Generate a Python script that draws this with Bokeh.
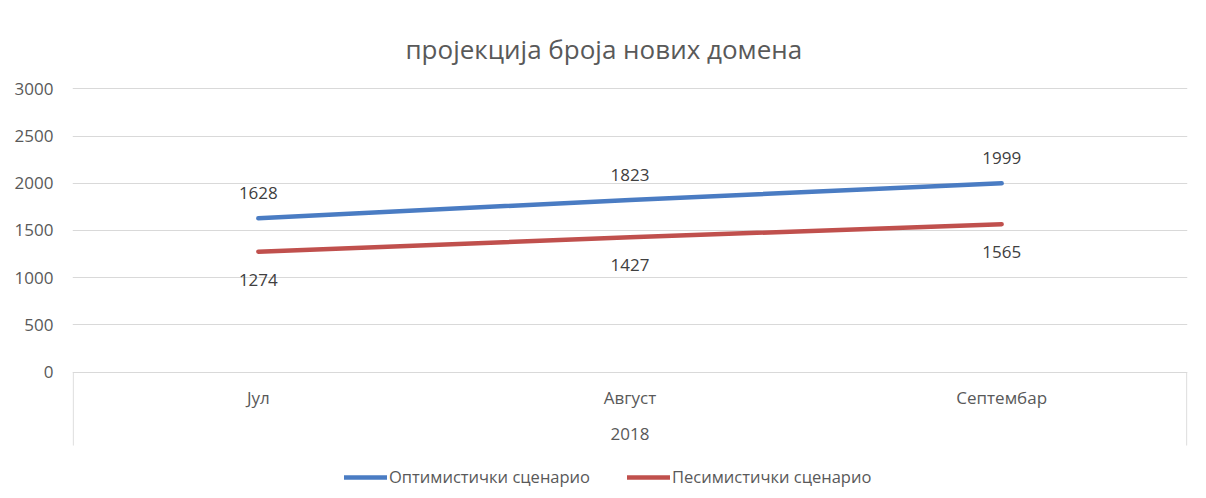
from bokeh.plotting import figure
from bokeh.models import FactorRange, Range1d, FixedTicker, Legend, LegendItem
from bokeh.core.properties import value
from bokeh.embed import file_html
from bokeh.resources import INLINE

# ---- data ----
months = ["Јул", "Август", "Септембар"]
year = "2018"
optimistic = [1628, 1823, 1999]
pessimistic = [1274, 1427, 1565]
y_ticks = [0, 500, 1000, 1500, 2000, 2500, 3000]
title_text = "пројекција броја нових домена"
series_names = ["Оптимистички сценарио", "Песимистички сценарио"]

FONT = "Open Sans"
GRID = "#d9d9d9"
BLUE = "#4a7cc3"
RED = "#c0504d"
Y_TOP = 3014
Y_BOTTOM = -1234      # frame reaches down to the legend row
BOX_BOTTOM = -779     # bottom of the category-axis box

p = figure(width=1190, height=488,
           x_range=FactorRange(factors=months, range_padding=0),
           y_range=Range1d(Y_BOTTOM, Y_TOP),
           output_backend="svg", toolbar_location=None,
           x_axis_location=None,
           min_border_left=72, min_border_right=3,
           min_border_top=87, min_border_bottom=0)

p.outline_line_color = None
p.background_fill_color = "white"
p.border_fill_color = "white"

# y axis
p.yaxis.ticker = FixedTicker(ticks=y_ticks)
p.yaxis.axis_line_color = None
p.yaxis.major_tick_line_color = None
p.yaxis.minor_tick_line_color = None
p.yaxis.major_tick_out = 0
p.yaxis.major_tick_in = 0
p.yaxis.major_label_standoff = 19
p.yaxis.major_label_text_font = FONT
p.yaxis.major_label_text_font_size = "17px"
p.yaxis.major_label_text_color = "#595959"

p.xgrid.grid_line_color = None
p.ygrid.grid_line_color = GRID
p.ygrid.grid_line_width = 1

# title
p.title.text = title_text
p.title.align = "left"
p.title.offset = 333
p.title.standoff = 41
p.title.text_font = FONT
p.title.text_font_size = "26px"
p.title.text_font_style = "normal"
p.title.text_color = "#595959"

# category axis box edges below zero line
p.segment(x0=[(months[0], -0.498), (months[-1], 0.498)], y0=[0, 0],
          x1=[(months[0], -0.498), (months[-1], 0.498)], y1=[BOX_BOTTOM, BOX_BOTTOM],
          line_color=GRID, line_width=1)

# series lines
r1 = p.line(months, optimistic, line_color=BLUE, line_width=4.5, line_cap="round")
r2 = p.line(months, pessimistic, line_color=RED, line_width=4.5, line_cap="round")

# data labels
common = dict(text_align="center", text_baseline="middle",
              text_font=value(FONT), text_font_size=value("17px"))
p.text(months, optimistic, text=[str(v) for v in optimistic], y_offset=-25,
       text_color="#404040", **common)
p.text(months, pessimistic, text=[str(v) for v in pessimistic], y_offset=28,
       text_color="#404040", **common)

# category labels
p.text(months, [0] * len(months), text=months, y_offset=25,
       text_color="#595959", **common)
p.text([months[len(months) // 2]], [0], text=[year], y_offset=62,
       text_color="#595959", **common)

legend = Legend(items=[LegendItem(label=series_names[0], renderers=[r1]),
                       LegendItem(label=series_names[1], renderers=[r2])],
                orientation="horizontal", location=(272, 0),
                glyph_width=43, glyph_height=14, label_height=14,
                label_standoff=2, spacing=37, padding=0, margin=0,
                border_line_color=None, background_fill_alpha=0,
                label_text_font=FONT, label_text_font_size="16.5px",
                label_text_color="#595959")
p.add_layout(legend)

open("out.html", "w").write(file_html(p, INLINE))
